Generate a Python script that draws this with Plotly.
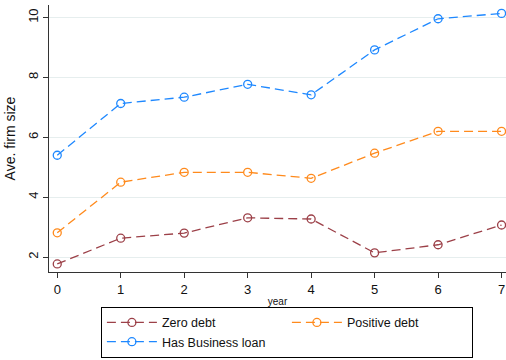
import plotly.graph_objects as go

years = [0, 1, 2, 3, 4, 5, 6, 7]
zero_debt = [1.77, 2.63, 2.80, 3.31, 3.27, 2.14, 2.41, 3.07]
positive_debt = [2.81, 4.50, 4.83, 4.83, 4.63, 5.47, 6.20, 6.20]
business_loan = [5.40, 7.13, 7.34, 7.77, 7.42, 8.92, 9.96, 10.14]
series_names = ["Zero debt", "Positive debt", "Has Business loan"]
y_ticks = [2, 4, 6, 8, 10]

colors = ["#9c4048", "#ff8a1c", "#1e88ff"]
fig = go.Figure()
for name, vals, c in zip(series_names, [zero_debt, positive_debt, business_loan], colors):
    fig.add_trace(go.Scatter(
        x=years, y=vals, name=name, mode="lines+markers",
        line=dict(color=c, width=1.3, dash="9px,5px"),
        marker=dict(symbol="circle-open", size=8, color=c, line=dict(width=1.3, color=c)),
    ))

fig.update_layout(
    width=506, height=360,
    margin=dict(l=49, r=0, t=5, b=88, autoexpand=False),
    paper_bgcolor="white", plot_bgcolor="white",
    font=dict(family="Liberation Sans, Arial, sans-serif", color="#111111", size=12),
    showlegend=True,
    legend=dict(
        orientation="h", x=0.567, xanchor="center", xref="container",
        y=0.006, yanchor="bottom", yref="container",
        bordercolor="#000000", borderwidth=1,
        font=dict(size=12.5), entrywidth=120, entrywidthmode="pixels",
        itemwidth=50, tracegroupgap=0,
    ),
)
fig.update_xaxes(
    range=[-0.13, 7.07], tickvals=years, ticks="outside", ticklen=5, tickcolor="#333",
    showline=True, linecolor="#333", linewidth=1.2, showgrid=False, zeroline=False,
    tickfont=dict(size=13),
    title=dict(text="year", font=dict(size=10), standoff=6),
)
fig.update_yaxes(
    range=[1.5, 10.42], tickvals=y_ticks, ticks="outside", ticklen=5, tickcolor="#333",
    showline=True, linecolor="#333", linewidth=1.2, showgrid=True, gridcolor="#e6eeee",
    gridwidth=1, zeroline=False, tickangle=-90,
    tickfont=dict(size=13),
    title=dict(text="Ave. firm size", font=dict(size=14), standoff=6),
)
fig.write_html("out.html")
